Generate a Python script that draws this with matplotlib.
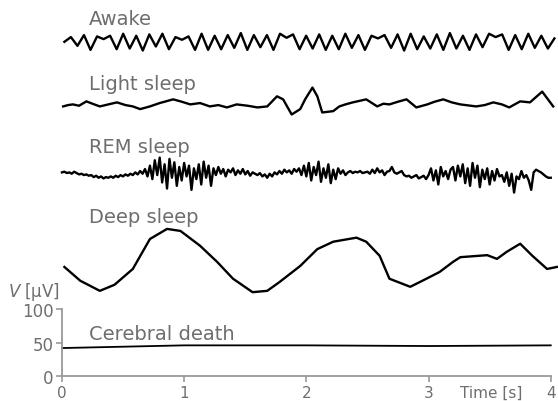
import numpy as np
import matplotlib
matplotlib.use('Agg')
import matplotlib.pyplot as plt

# EEG traces, values in microvolts

# awake: successive peaks and troughs of the alpha rhythm (with small notches)
awake_uv = [0, 7, -6, 10, -12, 8, 4, 9, -11, 12, -10, 9, -13, 11, -7, 12,
            -11, 7, 3, 8, -12, 12, -12, 9, -11, 10, -9, 13, -12, 10, -8, 10,
            -12, 12, 6, 11, -11, 9, -10, 11, -12, 9, -11, 12, -9, 10, -12, 9,
            5, 10, -9, 11, -13, 12, -11, 8, -10, 11, -12, 13, -10, 9, -12, 11,
            -8, 12, 7, 11, -12, 10, -11, 12, -9, 9, -10, 5]

light_t = [0.01, 0.05, 0.09, 0.14, 0.20, 0.25, 0.31, 0.38, 0.45, 0.52,
           0.58, 0.64, 0.72, 0.80, 0.91, 0.98, 1.05, 1.13, 1.21, 1.28,
           1.35, 1.43, 1.52, 1.60, 1.68, 1.76, 1.81, 1.88, 1.95, 1.99,
           2.05, 2.09, 2.13, 2.22, 2.27, 2.32, 2.38, 2.49, 2.58, 2.63,
           2.68, 2.75, 2.82, 2.90, 2.99, 3.05, 3.12, 3.19, 3.26, 3.39,
           3.46, 3.53, 3.60, 3.66, 3.75, 3.83, 3.93, 4.02]
light_uv = [-6, -4, -3, -5, 1.5, -2, -6, -3, 0, -4,
            -6, -10, -6, -1, 4.5, 1, -3, -1, -6, -4,
            -7.5, -3, -5, -7.5, -6, 9, 4.5, -18, -10, 4.5,
            22, 9, -15, -13, -6, -3, 0, 4.5, -6, -2,
            -3, 1, 4.5, -7.5, -3, 1, 4.5, 0, -3, -6,
            -4, 0, -3, -7.5, 1.5, 0, 16, -6]

# REM sleep, one value every 20 ms
rem_uv = [0, 1, -1, 0, -2, 1, -1, -3, -2, -4,
          -3, -5, -4, -7, -5, -8, -6, -9, -7, -8,
          -6, -8, -5, -7, -4, -6, -3, -5, -2, -4,
          0, -3, 2, -2, 5, -6, 10, -10, 18, -4,
          22, -15, 12, -24, 20, -8, 15, -20, 8, -12,
          14, -6, 10, -26, 6, -10, 12, -18, 16, -8,
          10, -20, 6, -4, 8, -2, 5, -6, 4, 0,
          6, -4, 3, -2, 5, -3, 2, -5, 0, -2,
          -4, -1, -6, -3, -8, -2, -6, 0, -3, 2,
          -2, 4, 0, 3, -2, 5, 1, 6, -4, 10,
          -6, 14, -12, 8, -4, 16, -14, 6, -8, 12,
          -16, 4, -10, 6, -2, 3, -4, 0, 2, -1,
          1, 0, 2, -1, 0, 1, -2, 4, -1, 6,
          0, 3, -4, 1, 2, 8, 0, -2, 0, 2,
          -4, -6, -5, -8, -6, -4, -9, -7, -5, -10,
          -4, 6, -12, 3, -18, 8, -6, 2, -10, 4,
          8, -12, 10, -6, 12, -16, 6, -20, 14, -8,
          10, -22, 4, -10, 6, -18, 2, -12, 5, -6,
          -4, -14, 0, -20, -2, -30, -6, -10, 2, -8,
          -4, -12, -26, 0, 4, 2, 0, -3, -6, -8,
          -8]

deep_t = [0.02, 0.15, 0.31, 0.43, 0.58, 0.72, 0.86, 0.97, 1.13, 1.27,
          1.40, 1.56, 1.68, 1.78, 1.95, 2.09, 2.22, 2.41, 2.49, 2.60,
          2.68, 2.85, 2.95, 3.09, 3.20, 3.26, 3.48, 3.56, 3.64, 3.75,
          3.85, 3.97, 4.05]
deep_uv = [-4.5, -25, -40, -31, -7.5, 37, 52, 49, 27, 3,
           -22, -42, -40, -27, -3, 22, 33, 39, 33, 12,
           -22, -34, -25, -12, 3, 10, 13, 7.5, 18, 30,
           12, -7.5, -4.5]

death_t = [0, 1, 2, 3, 4]
death_uv = [42, 46, 46, 45, 46]

labels = ['Awake', 'Light sleep', 'REM sleep', 'Deep sleep', 'Cerebral death']
yticks = [0, 50, 100]
xticks = [0, 1, 2, 3, 4]

# vertical placement of each trace (microvolts on the shared axis)
offsets = [497, 407, 303, 167]
label_y = [523, 427, 333, 229, 56]

grey = '#6e6e6e'

fig = plt.figure(figsize=(5.58, 4.02), dpi=100)
ax = fig.add_axes([0.111, 0.0614, 0.876, 0.9386])
ax.set_xlim(0, 4)
ax.set_ylim(0, 560.6)

awake_t = np.linspace(0.02, 4.03, len(awake_uv))
rem_t = np.linspace(0.0, 4.0, len(rem_uv))

traces = [(awake_t, awake_uv), (light_t, light_uv),
          (rem_t, rem_uv), (deep_t, deep_uv)]
for (t, v), off in zip(traces, offsets):
  ax.plot(t, np.array(v) + off, color='black', lw=1.7, clip_on=False,
          solid_joinstyle='round')
ax.plot(death_t, death_uv, color='black', lw=1.3, clip_on=False)

for lab, y in zip(labels, label_y):
  ax.text(0.22, y, lab, fontsize=14, color=grey, va='baseline', ha='left')

ax.text(-0.44, 119, r'$V$ [µV]', fontsize=12, color=grey, va='baseline', ha='left')
ax.annotate('Time [s]', xy=(3.51, 0), xytext=(0, -6), textcoords='offset points',
            fontsize=11, color=grey, va='top', ha='center')

for s in ['top', 'right']:
  ax.spines[s].set_visible(False)
ax.spines['left'].set_bounds(0, 100)
ax.spines['bottom'].set_bounds(0, 4)
for s in ['left', 'bottom']:
  ax.spines[s].set_color('#999999')
  ax.spines[s].set_linewidth(1.3)

ax.set_yticks(yticks)
ax.set_xticks(xticks)
ax.tick_params(axis='x', direction='out', length=4, width=1.2,
               color='#999999', labelcolor=grey, labelsize=11, pad=2)
ax.tick_params(axis='y', direction='out', length=4, width=1.2,
               color='#999999', labelcolor=grey, labelsize=12, pad=2)

fig.savefig('out.png', dpi=100)
